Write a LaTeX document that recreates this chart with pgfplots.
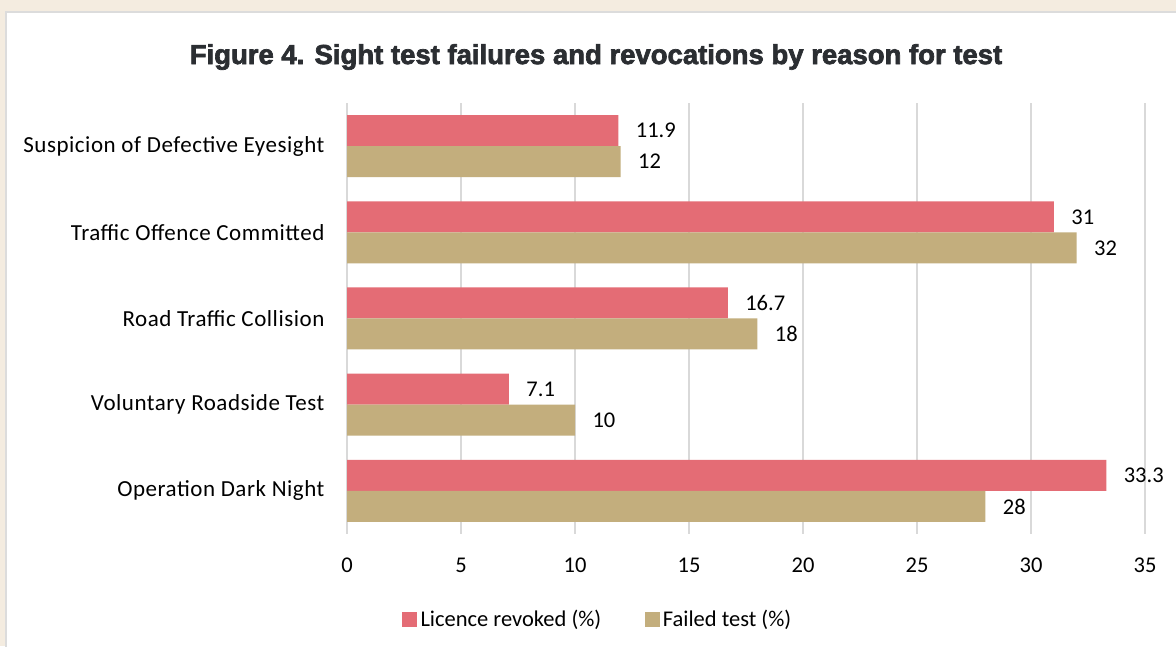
\documentclass[border=0pt]{standalone}
\usepackage{pgfplots}
\pgfplotsset{compat=1.18}
\usepackage{fontspec}
\setmainfont{Carlito}
\newfontfamily\titlefont[FakeBold=2.5]{Liberation Sans}
\newfontfamily\catfont[LetterSpace=2.3]{Carlito}
\definecolor{bgbeige}{HTML}{F4ECE0}
\definecolor{panelborder}{HTML}{DCDCDC}
\definecolor{revoked}{HTML}{E46C75}
\definecolor{failed}{HTML}{C3AE7D}
\definecolor{titlecol}{HTML}{2B2E32}
\definecolor{gridcol}{HTML}{D9D9D9}
\begin{document}
\begin{tikzpicture}
\useasboundingbox (0,0) rectangle (705.6pt,387.6pt);
\fill[bgbeige] (0,0) rectangle (705.6pt,387.6pt);
\fill[white,draw=panelborder,line width=1.2pt] (3.6pt,-2pt) rectangle (710pt,380.4pt);
\node[font={\titlefont\bfseries\fontsize{16.5}{18}\selectfont},text=titlecol] at (357.6pt,353.4pt) {Figure 4. Sight test failures and revocations by reason for test};
\begin{axis}[
  at={(208.2pt,67.2pt)}, anchor=south west,
  scale only axis, width=478.8pt, height=258.6pt,
  xbar, bar width=18.6pt,
  xmin=0, xmax=35, ymin=-0.5, ymax=4.5,
  xtick={0,5,...,35},
  ytick={0,1,2,3,4},
  yticklabels={Operation Dark Night,Voluntary Roadside Test,Road Traffic Collision,Traffic Offence Committed,Suspicion of Defective Eyesight},
  xmajorgrids, major grid style={gridcol,line width=1.2pt},
  axis x line*=bottom, axis y line*=left,
  x axis line style={draw=none},
  y axis line style={gridcol,line width=1.2pt},
  major tick length=0pt,
  tick label style={font=\fontsize{13.5}{16}\selectfont},
  yticklabel style={font=\catfont\fontsize{13.8}{16}\selectfont,xshift=-10pt},
  /pgf/number format/assume math mode=true,
  xticklabel style={yshift=-11pt},
  nodes near coords,
  nodes near coords style={font=\fontsize{13.5}{16}\selectfont,anchor=west,xshift=7pt},
  every node near coord/.append style={/pgf/number format/assume math mode=true},
  legend style={draw=none,fill=none,at={(0.315,-0.198)},anchor=center,legend columns=2,
    font=\fontsize{13.5}{16}\selectfont,
    /tikz/every even column/.append style={column sep=24pt}},
  legend image code/.code={\fill[#1] (0pt,-4.5pt) rectangle (9pt,4.5pt);},
]
\addplot[fill=revoked,draw=none,bar shift=9.3pt] coordinates {(33.3,0) (7.1,1) (16.7,2) (31,3) (11.9,4)};
\addlegendentry{Licence revoked (\%)}
\addplot[fill=failed,draw=none,bar shift=-9.3pt] coordinates {(28,0) (10,1) (18,2) (32,3) (12,4)};
\addlegendentry{Failed test (\%)}
\end{axis}
\end{tikzpicture}
\end{document}
